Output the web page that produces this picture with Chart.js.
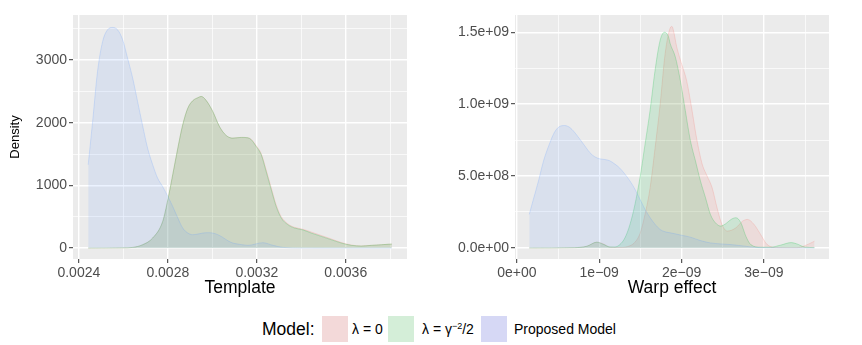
<!DOCTYPE html>
<html>
<head>
<meta charset="utf-8">
<script src="https://cdn.jsdelivr.net/npm/chart.js@4.4.0/dist/chart.umd.min.js"></script>
<style>
  body { margin: 0; background: #fff; width: 862px; height: 345px; position: relative; overflow: hidden;
         font-family: "Liberation Sans", Arial, sans-serif; }
  #left { position: absolute; left: 0; top: 0; }
  #right { position: absolute; left: 420px; top: 0; }
  .lg { position: absolute; top: 316px; height: 26px; line-height: 26px; white-space: nowrap; color: #000; }
  .key { position: absolute; top: 316px; width: 26px; height: 26px; }
  sup { font-size: 9px; vertical-align: 5px; line-height: 0; }
</style>
</head>
<body>
<canvas id="left" width="420" height="305"></canvas>
<canvas id="right" width="442" height="305"></canvas>

<div class="lg" style="left:262px; font-size:17.5px;">Model:</div>
<div class="key" style="left:322px; background:rgb(243,217,217);"></div>
<div class="lg" style="left:352px; font-size:14px;">λ = 0</div>
<div class="key" style="left:388px; background:rgb(212,238,216);"></div>
<div class="lg" style="left:422px; font-size:14px;">λ = γ<sup>−2</sup>/2</div>
<div class="key" style="left:481px; background:rgb(214,216,245);"></div>
<div class="lg" style="left:514px; font-size:14px;">Proposed Model</div>

<script>
// ---- Template panel (left) ----
const templateRedX   = [0.002442, 0.0026, 0.002642, 0.002687, 0.002732, 0.002777, 0.0028, 0.002822, 0.002845, 0.002867, 0.00289, 0.002912, 0.002935, 0.00295, 0.00297, 0.003002, 0.003032, 0.003062, 0.003092, 0.00313, 0.00316, 0.003175, 0.003197, 0.00322, 0.003242, 0.003265, 0.003287, 0.00331, 0.00334, 0.00337, 0.003407, 0.003445, 0.00349, 0.003535, 0.00358, 0.003625, 0.00367, 0.003715, 0.00376, 0.003807];
const templateRed    = [0, 3, 10, 53, 160, 425, 770, 1170, 1596, 1968, 2234, 2351, 2400, 2420, 2367, 2181, 1941, 1798, 1755, 1766, 1760, 1735, 1635, 1505, 1250, 960, 690, 500, 385, 330, 300, 255, 200, 145, 88, 48, 34, 43, 53, 64];
const templateGreenX = templateRedX;
const templateGreen  = [0, 3, 10, 53, 160, 425, 770, 1170, 1596, 1968, 2234, 2351, 2400, 2420, 2367, 2181, 1941, 1798, 1755, 1766, 1760, 1729, 1622, 1489, 1223, 931, 665, 479, 372, 319, 290, 239, 186, 133, 80, 43, 32, 43, 53, 64];
const templateBlueX  = [0.002442, 0.002462, 0.002484, 0.002507, 0.002529, 0.002552, 0.002574, 0.002597, 0.002619, 0.002642, 0.002664, 0.002687, 0.002709, 0.002732, 0.002754, 0.002777, 0.0028, 0.002822, 0.002845, 0.002867, 0.00289, 0.002912, 0.002935, 0.002957, 0.00298, 0.003002, 0.003025, 0.003047, 0.00307, 0.003092, 0.003115, 0.00316, 0.003227, 0.003273, 0.003318, 0.0034, 0.003807];
const templateBlue   = [1330, 2021, 2819, 3298, 3484, 3521, 3484, 3324, 3032, 2713, 2340, 1950, 1596, 1330, 1117, 980, 824, 665, 479, 319, 239, 213, 223, 239, 245, 239, 213, 170, 117, 80, 64, 43, 85, 43, 10, 1, 0];

const templateXTicks  = [0.0024, 0.0026, 0.0028, 0.0030, 0.0032, 0.0034, 0.0036, 0.0038];
const templateXLabels = ['0.0024', '', '0.0028', '', '0.0032', '', '0.0036', ''];
const templateYTicks  = [0, 500, 1000, 1500, 2000, 2500, 3000, 3500];
const templateYLabels = ['0', '', '1000', '', '2000', '', '3000', ''];

// ---- Warp effect panel (right); x in 1e-9, density in 1e8 ----
const warpRedX   = [0.15, 0.7, 0.85, 0.97, 1.05, 1.13, 1.25, 1.373, 1.434, 1.495, 1.556, 1.618, 1.679, 1.74, 1.8, 1.862, 1.883, 1.9, 1.94, 2.0, 2.06, 2.12, 2.18, 2.25, 2.31, 2.37, 2.43, 2.49, 2.555, 2.66, 2.74, 2.8, 2.88, 2.96, 3.04, 3.17, 3.4, 3.49, 3.614];
const warpRed    = [0, 0.02, 0.12, 0.4, 0.28, 0.05, 0.03, 0.15, 0.4, 1.0, 2.33, 4.2, 7.0, 10.0, 13.5, 15.3, 15.4, 15.15, 14.0, 12.8, 11.66, 9.8, 7.7, 5.83, 5.0, 4.2, 2.8, 1.63, 1.17, 1.4, 1.86, 1.98, 1.63, 0.93, 0.23, 0.02, 0.02, 0.14, 0.47];
const warpGreenX = [0.15, 0.7, 0.85, 0.97, 1.05, 1.13, 1.19, 1.25, 1.312, 1.373, 1.434, 1.495, 1.556, 1.618, 1.679, 1.74, 1.793, 1.84, 1.862, 1.923, 1.984, 2.045, 2.107, 2.168, 2.229, 2.29, 2.35, 2.41, 2.474, 2.535, 2.6, 2.66, 2.72, 2.78, 2.84, 2.96, 3.08, 3.2, 3.33, 3.4, 3.49, 3.614];
const warpGreen  = [0, 0.02, 0.12, 0.4, 0.25, 0.07, 0.07, 0.23, 0.7, 1.63, 3.03, 4.9, 7.2, 9.6, 12.4, 14.45, 15.0, 14.7, 14.2, 13.3, 11.66, 9.56, 7.46, 6.06, 4.66, 3.5, 2.33, 1.75, 1.52, 1.68, 1.98, 2.1, 1.75, 0.82, 0.23, 0.05, 0.05, 0.19, 0.37, 0.28, 0.07, 0.02];
const warpBlueX  = [0.15, 0.2, 0.262, 0.324, 0.395, 0.456, 0.517, 0.578, 0.639, 0.7, 0.762, 0.823, 0.884, 0.945, 1.006, 1.067, 1.128, 1.19, 1.25, 1.312, 1.373, 1.434, 1.495, 1.556, 1.618, 1.679, 1.74, 1.8, 1.862, 1.923, 1.984, 2.107, 2.229, 2.35, 2.474, 2.6, 2.72, 2.84, 2.96, 3.614];
const warpBlue   = [2.33, 3.38, 4.66, 6.06, 7.23, 8.04, 8.44, 8.51, 8.39, 8.04, 7.58, 7.11, 6.64, 6.34, 6.2, 6.15, 6.06, 5.83, 5.55, 5.13, 4.66, 4.08, 3.38, 2.68, 2.1, 1.63, 1.28, 1.12, 1.05, 0.98, 0.9, 0.75, 0.51, 0.35, 0.28, 0.23, 0.16, 0.07, 0.02, 0];

const warpXTicks  = [0, 0.5, 1, 1.5, 2, 2.5, 3, 3.5];
const warpXLabels = ['0e+00', '', '1e\u221209', '', '2e\u221209', '', '3e\u221209', ''];
const warpYTicks  = [0, 2.5, 5, 7.5, 10, 12.5, 15];
const warpYLabels = ['0.0e+00', '', '5.0e+08', '', '1.0e+09', '', '1.5e+09'];

Chart.defaults.font.family = '"Liberation Sans", Arial, sans-serif';
Chart.defaults.color = '#4d4d4d';

const colRed = '248,118,109', colGreen = '0,186,56', colBlue = '97,156,255';

function toPoints(xs, ys) {
    return xs.map((x, i) => ({x: x, y: ys[i]}));
}

function densitySet(xs, ys, rgb, order) {
    return {
        data: toPoints(xs, ys),
        showLine: true,
        borderColor: 'rgba(' + rgb + ',0.22)',
        backgroundColor: 'rgba(' + rgb + ',0.13)',
        borderWidth: 1,
        pointRadius: 0,
        fill: 'origin',
        cubicInterpolationMode: 'monotone',
        order: order
    };
}

const panelBg = {
    id: 'panelBg',
    beforeDraw(chart) {
        const a = chart.chartArea;
        chart.ctx.save();
        chart.ctx.fillStyle = '#ebebeb';
        chart.ctx.fillRect(a.left, a.top, a.right - a.left, a.bottom - a.top);
        chart.ctx.restore();
    }
};

function axis(ticks, labels, min, max, extra) {
    const ax = {
        type: 'linear',
        min: min,
        max: max,
        border: { display: false },
        afterBuildTicks: s => { s.ticks = ticks.map(v => ({value: v})); },
        ticks: {
            autoSkip: false,
            maxRotation: 0,
            padding: 2,
            color: '#4d4d4d',
            font: { size: 14 },
            callback: (v, i) => labels[i]
        },
        grid: {
            color: '#ffffff',
            lineWidth: c => labels[c.index] ? 1.4 : 0.7,
            tickColor: c => labels[c.index] ? '#333333' : 'rgba(0,0,0,0)',
            tickLength: 4,
            tickWidth: 1
        }
    };
    return Object.assign(ax, extra);
}

function makeChart(id, sets, xAxis, yAxis, padding) {
    return new Chart(document.getElementById(id), {
        type: 'scatter',
        data: { datasets: sets },
        options: {
            responsive: false,
            animation: false,
            layout: { padding: padding },
            plugins: { legend: { display: false }, tooltip: { enabled: false } },
            scales: { x: xAxis, y: yAxis }
        },
        plugins: [panelBg]
    });
}

makeChart('left', [
        densitySet(templateBlueX, templateBlue, colBlue, 0),
        densitySet(templateGreenX, templateGreen, colGreen, 1),
        densitySet(templateRedX, templateRed, colRed, 2)
    ],
    axis(templateXTicks, templateXLabels, 0.0023737, 0.0038753, {
        title: { display: true, text: 'Template', color: '#000', font: { size: 17.5 }, padding: { top: 0, bottom: 6 } },
        afterFit: s => { s.height = 46; }
    }),
    axis(templateYTicks, templateYLabels, -175, 3720, {
        title: { display: true, text: 'Density', color: '#000', font: { size: 13 }, padding: { top: 8, bottom: 0 } },
        afterFit: s => { s.width = 73; }
    }),
    { top: 15, right: 13, bottom: 0, left: 0 }
);

makeChart('right', [
        densitySet(warpBlueX, warpBlue, colBlue, 0),
        densitySet(warpGreenX, warpGreen, colGreen, 1),
        densitySet(warpRedX, warpRed, colRed, 2)
    ],
    axis(warpXTicks, warpXLabels, -0.023, 3.79, {
        title: { display: true, text: 'Warp effect', color: '#000', font: { size: 17.5 }, padding: { top: 0, bottom: 6 } },
        afterFit: s => { s.height = 46; }
    }),
    axis(warpYTicks, warpYLabels, -0.77, 16.2, {
        afterFit: s => { s.width = 95; }
    }),
    { top: 15, right: 33, bottom: 0, left: 0 }
);
</script>
</body>
</html>
